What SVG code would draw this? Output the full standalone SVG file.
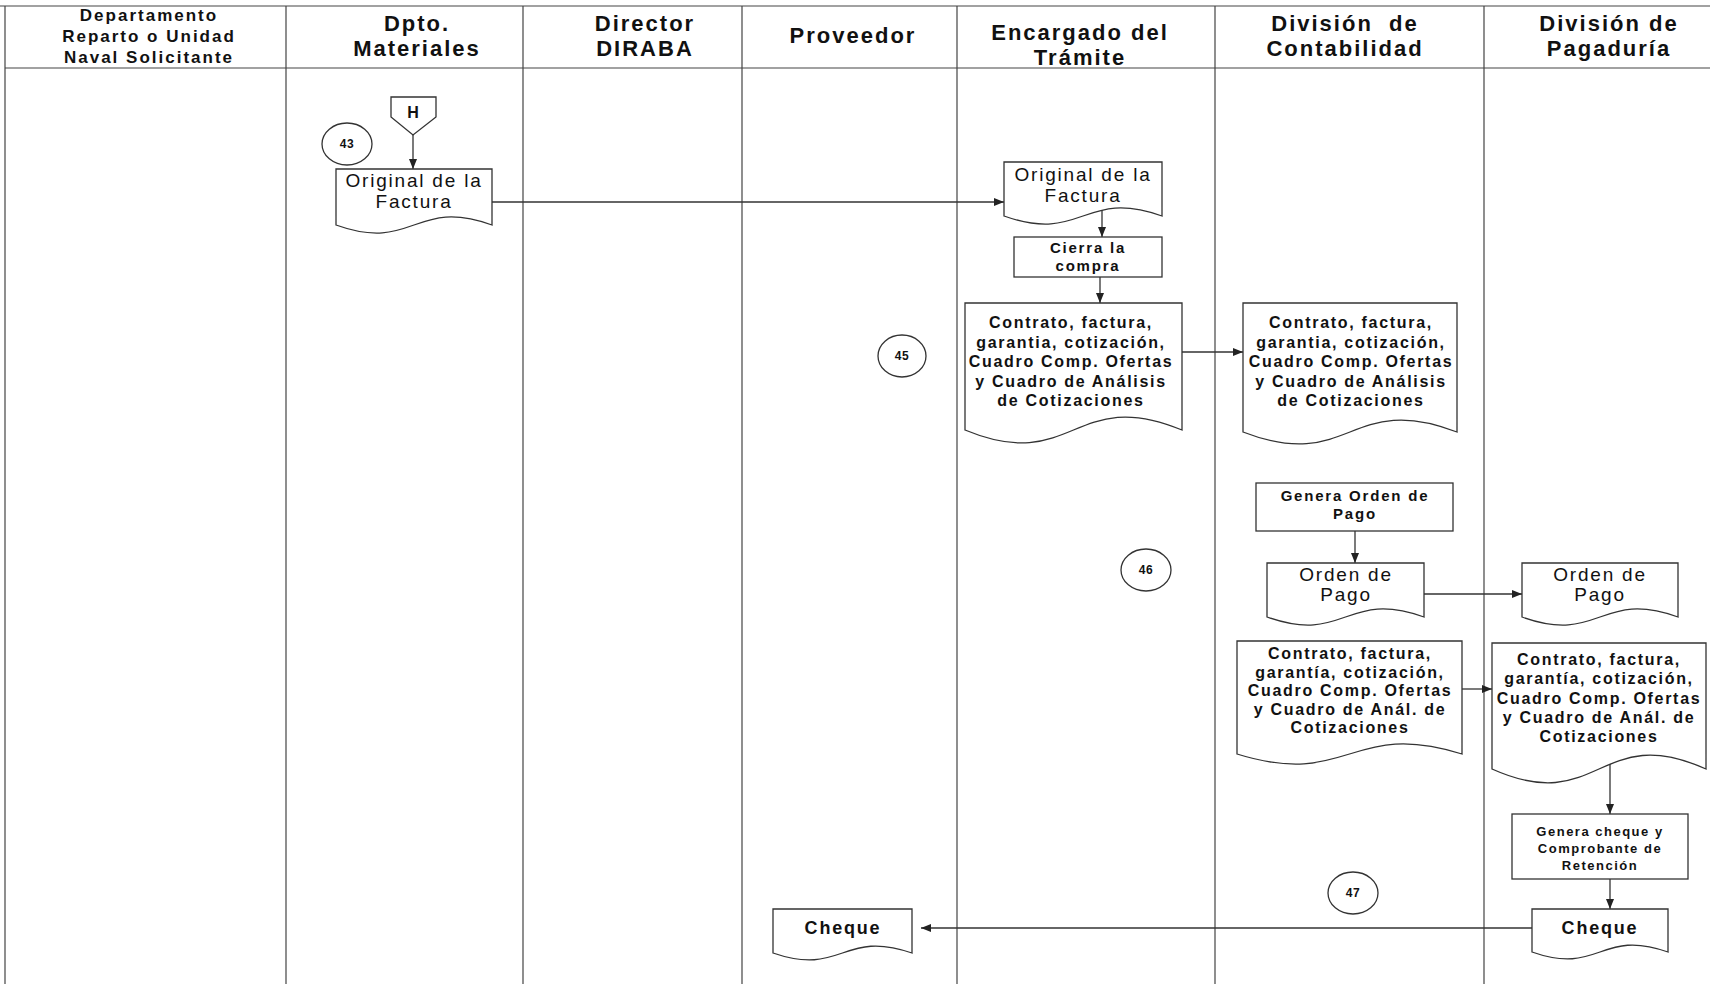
<svg xmlns="http://www.w3.org/2000/svg" width="1710" height="984" viewBox="0 0 1710 984">
<style>
.bg{fill:#fff}
.lane{stroke:#444;stroke-width:1.2;fill:none}
.shape{fill:#fff;stroke:#333;stroke-width:1.3}
.con{stroke:#333;stroke-width:1.3;fill:none;marker-end:url(#ah)}
text{font-family:"Liberation Sans",Arial,sans-serif;fill:#111;text-anchor:middle}
.hs{font-size:17px;font-weight:bold;letter-spacing:2px}
.h{font-size:22px;font-weight:bold;letter-spacing:2px}
.doc{font-size:19px;letter-spacing:1.8px}
.sm{font-size:16px;font-weight:bold;letter-spacing:1.7px}
.box{font-size:15px;font-weight:bold;letter-spacing:1.8px}
.xs{font-size:13px;font-weight:bold;letter-spacing:1.5px}
.chq{font-size:18px;font-weight:bold;letter-spacing:1.8px}
.num{font-size:12px;font-weight:bold;letter-spacing:0.5px}
.hh{font-size:16px;font-weight:bold}
</style>
<defs>
<marker id="ah" viewBox="0 0 10 8" refX="10" refY="4" markerWidth="10" markerHeight="8" markerUnits="userSpaceOnUse" orient="auto"><path d="M0,0 L10,4 L0,8 z" fill="#222"/></marker>
</defs>
<rect class="bg" x="0" y="0" width="1710" height="984"/>
<g id="lanes">
<line class="lane" x1="0" y1="6" x2="1710" y2="6"/>
<line class="lane" x1="5" y1="68" x2="1710" y2="68"/>
<line class="lane" x1="5" y1="6" x2="5" y2="984"/>
<line class="lane" x1="286" y1="6" x2="286" y2="984"/>
<line class="lane" x1="523" y1="6" x2="523" y2="984"/>
<line class="lane" x1="742" y1="6" x2="742" y2="984"/>
<line class="lane" x1="957" y1="6" x2="957" y2="984"/>
<line class="lane" x1="1215" y1="6" x2="1215" y2="984"/>
<line class="lane" x1="1484" y1="6" x2="1484" y2="984"/>
</g>
<g id="headers">
<text class="hs" x="149" y="21">Departamento</text>
<text class="hs" x="149" y="42">Reparto o Unidad</text>
<text class="hs" x="149" y="63">Naval Solicitante</text>
<text class="h" x="417" y="31">Dpto.</text>
<text class="h" x="417" y="56">Materiales</text>
<text class="h" x="645" y="31">Director</text>
<text class="h" x="645" y="56">DIRABA</text>
<text class="h" x="853" y="43">Proveedor</text>
<text class="h" x="1080" y="40">Encargado del</text>
<text class="h" x="1080" y="65">Trámite</text>
<text class="h" x="1345" y="31" xml:space="preserve">División  de</text>
<text class="h" x="1345" y="56">Contabilidad</text>
<text class="h" x="1609" y="31">División de</text>
<text class="h" x="1609" y="56">Pagaduría</text>
</g>
<g id="connectors">
<line class="con" x1="413" y1="135" x2="413" y2="169"/>
<line class="con" x1="492" y1="202" x2="1004" y2="202"/>
<line class="con" x1="1102" y1="209" x2="1102" y2="237"/>
<line class="con" x1="1100" y1="277" x2="1100" y2="303"/>
<line class="con" x1="1182" y1="352" x2="1243" y2="352"/>
<line class="con" x1="1355" y1="531" x2="1355" y2="563"/>
<line class="con" x1="1424" y1="594" x2="1522" y2="594"/>
<line class="con" x1="1462" y1="689" x2="1492" y2="689"/>
<line class="con" x1="1610" y1="762" x2="1610" y2="814"/>
<line class="con" x1="1610" y1="879" x2="1610" y2="909"/>
<line class="con" x1="1532" y1="928" x2="921" y2="928"/>
</g>
<g id="nodeH">
<polygon class="shape" points="391,97 436,97 436,117 413,135 391,117"/>
<text class="hh" x="413" y="118">H</text>
</g>
<g id="c43"><ellipse class="shape" cx="347" cy="144" rx="25" ry="21"/><text class="num" x="347" y="148">43</text></g>
<g id="c45"><ellipse class="shape" cx="902" cy="356" rx="24" ry="21"/><text class="num" x="902" y="360">45</text></g>
<g id="c46"><ellipse class="shape" cx="1146" cy="570" rx="25" ry="21"/><text class="num" x="1146" y="574">46</text></g>
<g id="c47"><ellipse class="shape" cx="1353" cy="893" rx="25" ry="21"/><text class="num" x="1353" y="897">47</text></g>
<g id="d1">
<path class="shape" d="M336,169 H492 V225 C414,197 414,253 336,225 Z"/>
<text class="doc" x="414" y="187">Original de la</text>
<text class="doc" x="414" y="208">Factura</text>
</g>
<g id="d2">
<path class="shape" d="M1004,162 H1162 V216 C1083,188 1083,244 1004,216 Z"/>
<text class="doc" x="1083" y="181">Original de la</text>
<text class="doc" x="1083" y="202">Factura</text>
</g>
<g id="b1">
<rect class="shape" x="1014" y="237" width="148" height="40"/>
<text class="box" x="1088" y="253">Cierra la</text>
<text class="box" x="1088" y="271">compra</text>
</g>
<g id="d3">
<path class="shape" d="M965,303 H1182 V430 C1073.5,385 1073.5,475 965,430 Z"/>
<text class="sm" x="1071" y="328">Contrato, factura,</text>
<text class="sm" x="1071" y="347.5">garantia, cotización,</text>
<text class="sm" x="1071" y="367">Cuadro Comp. Ofertas</text>
<text class="sm" x="1071" y="386.5">y Cuadro de Análisis</text>
<text class="sm" x="1071" y="406">de Cotizaciones</text>
</g>
<g id="d4">
<path class="shape" d="M1243,303 H1457 V432 C1350,390.5 1350,473.5 1243,432 Z"/>
<text class="sm" x="1351" y="328">Contrato, factura,</text>
<text class="sm" x="1351" y="347.5">garantia, cotización,</text>
<text class="sm" x="1351" y="367">Cuadro Comp. Ofertas</text>
<text class="sm" x="1351" y="386.5">y Cuadro de Análisis</text>
<text class="sm" x="1351" y="406">de Cotizaciones</text>
</g>
<g id="b2">
<rect class="shape" x="1256" y="483" width="197" height="48"/>
<text class="box" x="1355" y="501">Genera Orden de</text>
<text class="box" x="1355" y="519">Pago</text>
</g>
<g id="d5">
<path class="shape" d="M1267,563 H1424 V617 C1345.5,589 1345.5,645 1267,617 Z"/>
<text class="doc" x="1346" y="581">Orden de</text>
<text class="doc" x="1346" y="601">Pago</text>
</g>
<g id="d6">
<path class="shape" d="M1522,563 H1678 V617 C1600,589 1600,645 1522,617 Z"/>
<text class="doc" x="1600" y="581">Orden de</text>
<text class="doc" x="1600" y="601">Pago</text>
</g>
<g id="d7">
<path class="shape" d="M1237,641 H1462 V754 C1349.5,719 1349.5,789 1237,754 Z"/>
<text class="sm" x="1350" y="659">Contrato, factura,</text>
<text class="sm" x="1350" y="677.5">garantía, cotización,</text>
<text class="sm" x="1350" y="696">Cuadro Comp. Ofertas</text>
<text class="sm" x="1350" y="714.5">y Cuadro de Anál. de</text>
<text class="sm" x="1350" y="733">Cotizaciones</text>
</g>
<g id="d8">
<path class="shape" d="M1492,643 H1706 V769 C1599,721 1599,817 1492,769 Z"/>
<text class="sm" x="1599" y="665">Contrato, factura,</text>
<text class="sm" x="1599" y="684">garantía, cotización,</text>
<text class="sm" x="1599" y="704">Cuadro Comp. Ofertas</text>
<text class="sm" x="1599" y="723">y Cuadro de Anál. de</text>
<text class="sm" x="1599" y="742">Cotizaciones</text>
</g>
<g id="b3">
<rect class="shape" x="1512" y="814" width="176" height="65"/>
<text class="xs" x="1600" y="836">Genera cheque y</text>
<text class="xs" x="1600" y="853">Comprobante de</text>
<text class="xs" x="1600" y="870">Retención</text>
</g>
<g id="d9">
<path class="shape" d="M1532,909 H1668 V952 C1600,928 1600,976 1532,952 Z"/>
<text class="chq" x="1600" y="934">Cheque</text>
</g>
<g id="d10">
<path class="shape" d="M773,909 H912 V953 C842.5,929 842.5,977 773,953 Z"/>
<text class="chq" x="843" y="934">Cheque</text>
</g>
</svg>
